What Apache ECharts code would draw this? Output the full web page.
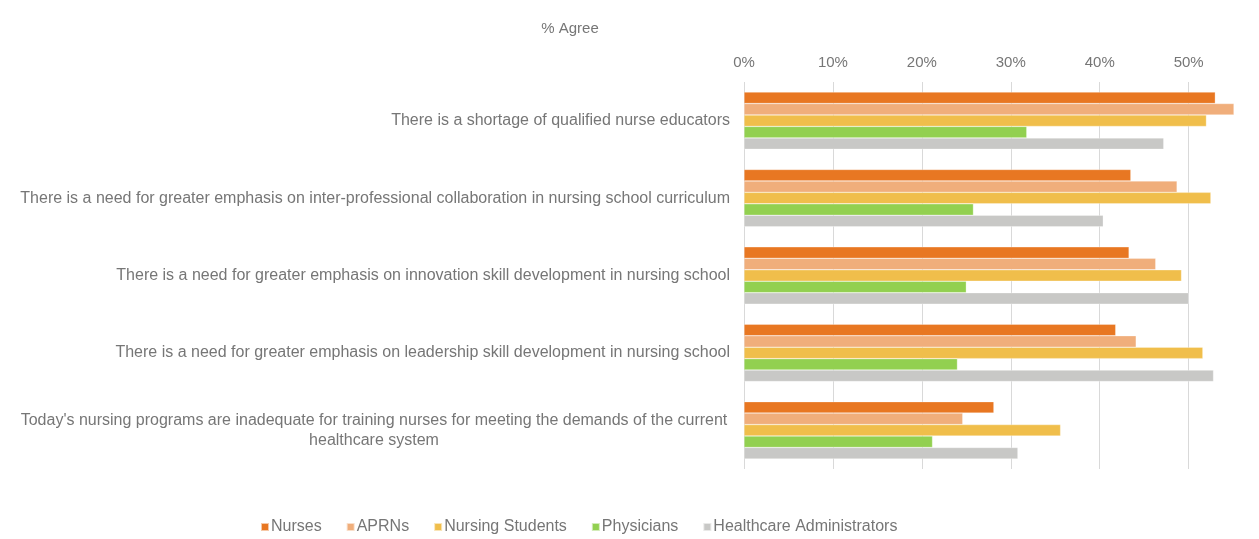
<!DOCTYPE html>
<html>
<head>
<meta charset="utf-8">
<script src="https://cdn.jsdelivr.net/npm/echarts@6/dist/echarts.min.js"></script>
<style>
  html, body { margin: 0; padding: 0; background: #fff; }
  #main { width: 1259px; height: 539px; }
</style>
</head>
<body>
<div id="main"></div>
<script>
var categories = [
  'There is a shortage of qualified nurse educators',
  'There is a need for greater emphasis on inter-professional collaboration in nursing school curriculum',
  'There is a need for greater emphasis on innovation skill development in nursing school',
  'There is a need for greater emphasis on leadership skill development in nursing school',
  "Today's nursing programs are inadequate for training nurses for meeting the demands of the current\nhealthcare system"
];
var seriesNames = ['Nurses', 'APRNs', 'Nursing Students', 'Physicians', 'Healthcare Administrators'];
var nurses = [53.0, 43.5, 43.3, 41.8, 28.1];
var aprns = [55.1, 48.7, 46.3, 44.1, 24.6];
var students = [52.0, 52.5, 49.2, 51.6, 35.6];
var physicians = [31.8, 25.8, 25.0, 24.0, 21.2];
var admins = [47.2, 40.4, 50.0, 52.8, 30.8];
var colors = ['#E87722', '#F0AE7B', '#F0BE4B', '#92D050', '#C8C8C6'];

var chart = echarts.init(document.getElementById('main'));
var values = [nurses, aprns, students, physicians, admins];
var series = [];
for (var i = 0; i < seriesNames.length; i++) {
  series.push({
    name: seriesNames[i],
    type: 'bar',
    data: values[i],
    barGap: '0%',
    barCategoryGap: '26%',
    itemStyle: { color: colors[i], borderColor: 'rgba(255,255,255,0.6)', borderWidth: 0.5 }
  });
}

// last label is two lines, centred under the first line like the original
var yData = categories.map(function (c, idx) {
  if (idx === categories.length - 1) {
    return { value: c, textStyle: { align: 'center', padding: [0, 712, 0, 0] } };
  }
  return c;
});

var textColor = '#767676';
var option = {
  animation: false,
  color: colors,
  title: {
    text: '% Agree',
    left: 565,
    top: 16,
    textAlign: 'center',
    textStyle: { fontSize: 15, fontWeight: 'normal', color: textColor, fontFamily: 'Liberation Sans' }
  },
  legend: {
    top: 514,
    left: 255,
    itemWidth: 8,
    itemHeight: 8,
    itemGap: 24,
    icon: 'rect',
    textStyle: { fontSize: 16, color: textColor, fontFamily: 'Liberation Sans', padding: [0, 0, 0, -3] },
    data: seriesNames
  },
  grid: { left: 744, right: 17, top: 82, bottom: 70, containLabel: false, outerBoundsMode: 'none' },
  xAxis: {
    type: 'value',
    position: 'top',
    min: 0,
    max: 56,
    interval: 10,
    axisLine: { show: false },
    axisTick: { show: false },
    axisLabel: {
      margin: 12,
      color: textColor,
      fontSize: 15,
      fontFamily: 'Liberation Sans',
      formatter: function (v) { return v % 10 === 0 ? v + '%' : ''; }
    },
    splitLine: { show: true, showMaxLine: false, lineStyle: { color: '#D9D9D9' } }
  },
  yAxis: {
    type: 'category',
    inverse: true,
    data: yData,
    axisLine: { show: false },
    axisTick: { show: false },
    axisLabel: {
      margin: 14,
      color: textColor,
      fontSize: 16,
      lineHeight: 20,
      fontFamily: 'Liberation Sans'
    }
  },
  series: series
};
chart.setOption(option);
</script>
</body>
</html>
